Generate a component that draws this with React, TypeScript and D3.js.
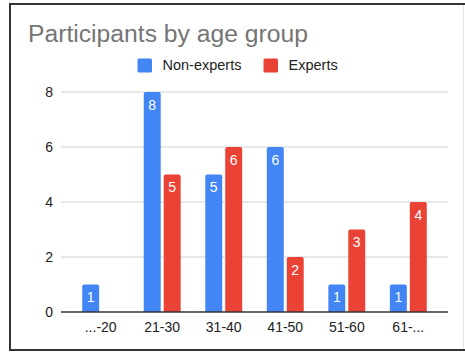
import React from "react";
import * as d3 from "d3";

const categories = ["...-20", "21-30", "31-40", "41-50", "51-60", "61-..."];
const seriesNames = ["Non-experts", "Experts"];
const nonExperts = [1, 8, 5, 6, 1, 1];
const experts = [0, 5, 6, 2, 3, 4];
const yTicks = [0, 2, 4, 6, 8];
const colors = ["#4285F4", "#EA4335"];

const W = 465;
const H = 353;
const FONT = "'Liberation Sans', Arial, sans-serif";

const plot = { left: 61, right: 448, top: 92, bottom: 312 };

// top corners rounded, bottom square
function barPath(x: number, y: number, w: number, h: number, r: number) {
  const rr = Math.min(r, h / 2, w / 2);
  return `M${x},${y + h}V${y + rr}Q${x},${y} ${x + rr},${y}H${x + w - rr}Q${x + w},${y} ${x + w},${y + rr}V${y + h}Z`;
}

export default function App() {
  const x0 = d3
    .scaleBand<string>()
    .domain(categories)
    .range([plot.left, plot.right])
    .paddingInner(0.4)
    .paddingOuter(0.345);
  const x1 = d3
    .scaleBand<string>()
    .domain(seriesNames)
    .range([0, x0.bandwidth()])
    .paddingInner(0.15);
  const y = d3.scaleLinear().domain([0, 8]).range([plot.bottom, plot.top]);

  const series = [nonExperts, experts];

  return (
    <svg
      width={W}
      height={H}
      style={{ position: "absolute", left: 0, top: 0, background: "#fff" }}
      fontFamily={FONT}
    >
      {/* frame */}
      <line x1={10} y1={4} x2={10} y2={350} stroke="#333" strokeWidth={2} />
      <line x1={9} y1={4} x2={465} y2={4} stroke="#333" strokeWidth={2} />
      <line x1={9} y1={350} x2={465} y2={350} stroke="#333" strokeWidth={2} />
      <line x1={463.5} y1={5} x2={463.5} y2={349} stroke="#e6e6e6" strokeWidth={1} />

      <text x={28} y={42} fontSize={24.7} fill="#757575">
        Participants by age group
      </text>

      {/* legend */}
      {[
        { name: seriesNames[0], x: 137.5 },
        { name: seriesNames[1], x: 263.5 },
      ].map((d, i) => (
        <g key={d.name}>
          <rect x={d.x} y={58.5} width={14.5} height={14} rx={1.5} fill={colors[i]} />
          <text x={d.x + 25} y={69.5} fontSize={14.5} fill="#222">
            {d.name}
          </text>
        </g>
      ))}

      {/* gridlines + y axis */}
      {yTicks.map((t) => (
        <g key={t}>
          {t !== 0 && (
            <line
              x1={plot.left}
              x2={plot.right}
              y1={y(t)}
              y2={y(t)}
              stroke="#d0d0d0"
              strokeWidth={1}
            />
          )}
          <text x={53} y={y(t) + 5} textAnchor="end" fontSize={14} fill="#222">
            {t}
          </text>
        </g>
      ))}

      {/* bars */}
      {categories.map((c, ci) => (
        <g key={c}>
          {series.map((vals, si) => {
            const v = vals[ci];
            if (!v) return null;
            const bx = (x0(c) ?? 0) + (x1(seriesNames[si]) ?? 0);
            const by = y(v);
            const bw = x1.bandwidth();
            return (
              <g key={si}>
                <path d={barPath(bx, by, bw, plot.bottom - by, 2)} fill={colors[si]} />
                <text
                  x={bx + bw / 2}
                  y={by + 17.5}
                  textAnchor="middle"
                  fontSize={14}
                  fill="#fff"
                >
                  {v}
                </text>
              </g>
            );
          })}
          <text
            x={(x0(c) ?? 0) + x0.bandwidth() / 2}
            y={331.5}
            textAnchor="middle"
            fontSize={14}
            fill="#222"
          >
            {c}
          </text>
        </g>
      ))}

      <line
        x1={plot.left}
        x2={plot.right}
        y1={plot.bottom}
        y2={plot.bottom}
        stroke="#333"
        strokeWidth={1.3}
      />
    </svg>
  );
}
